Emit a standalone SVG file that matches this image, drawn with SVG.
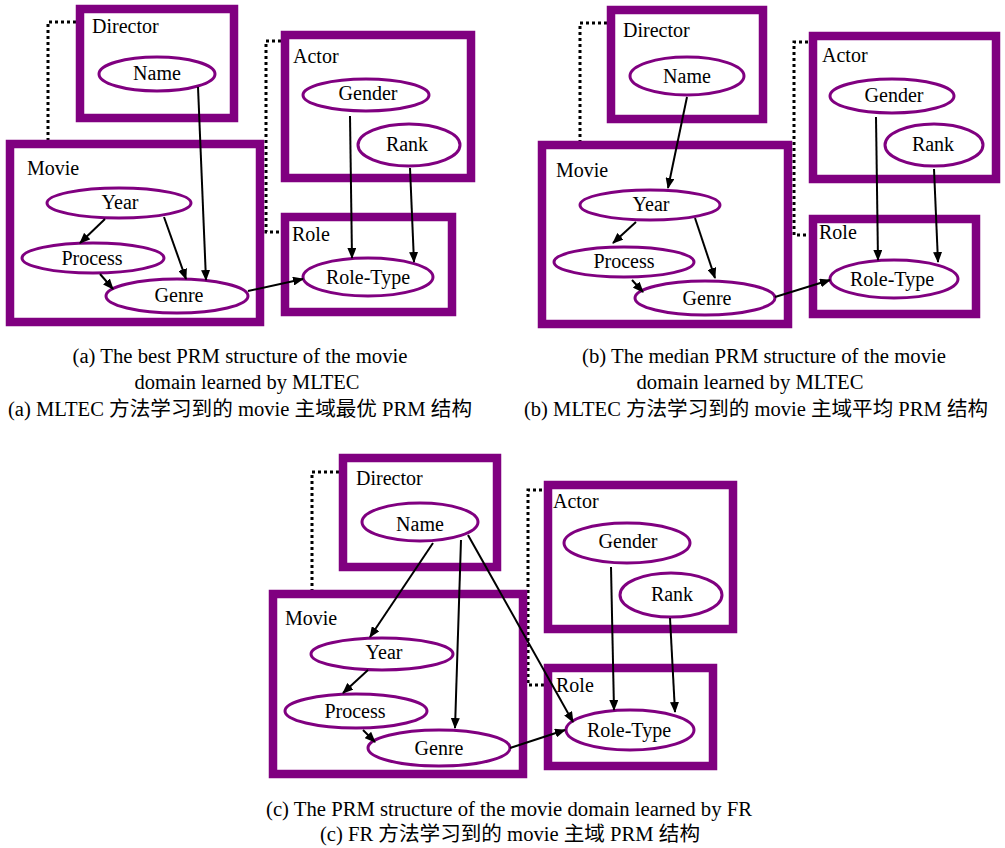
<svg xmlns="http://www.w3.org/2000/svg" width="1005" height="848" viewBox="0 0 1005 848">
<defs>
<marker id="arr" markerUnits="userSpaceOnUse" markerWidth="11" markerHeight="9" refX="10" refY="4.5" orient="auto">
<path d="M0,0 L11,4.5 L0,9 z" fill="#000"/>
</marker>
<style>
.box{fill:#fff;stroke:#800080;stroke-width:8.5}
.ell{fill:#fff;stroke:#800080;stroke-width:3}
.lbl{font-family:"Liberation Serif","Times New Roman",serif;font-size:20px;fill:#000}
.nt{font-family:"Liberation Serif","Times New Roman",serif;font-size:20px;fill:#000;text-anchor:middle}
.cap{font-family:"Liberation Serif","Times New Roman","Noto Sans CJK SC",serif;font-size:20px;fill:#000;text-anchor:middle}
.dot{fill:none;stroke:#000;stroke-width:3;stroke-dasharray:3 3}
.edge{fill:none;stroke:#000;stroke-width:2;marker-end:url(#arr)}
</style>
</defs>
<rect width="1005" height="848" fill="#fff"/>

<!-- Panel (a) -->
<g id="a-connectors">
<path class="dot" d="M76,22 H48 V155"/>
<path class="dot" d="M281,41 H266 V232 H285"/>
</g>
<g id="a-director"><rect class="box" x="80" y="9" width="154" height="109"/><text class="lbl" x="92" y="33">Director</text></g>
<g id="a-movie"><rect class="box" x="10" y="144" width="250" height="178"/><text class="lbl" x="27" y="175">Movie</text></g>
<g id="a-actor"><rect class="box" x="285" y="35" width="186" height="143"/><text class="lbl" x="293" y="63">Actor</text></g>
<g id="a-role"><rect class="box" x="285" y="217" width="167" height="95"/><text class="lbl" x="292" y="241">Role</text></g>
<g id="a-name"><ellipse class="ell" cx="157" cy="74" rx="58" ry="17"/><text class="nt" x="157" y="80">Name</text></g>
<g id="a-year"><ellipse class="ell" cx="119" cy="203" rx="72" ry="15"/><text class="nt" x="120" y="209">Year</text></g>
<g id="a-process"><ellipse class="ell" cx="93" cy="258" rx="71" ry="15"/><text class="nt" x="92" y="265">Process</text></g>
<g id="a-genre"><ellipse class="ell" cx="177" cy="296" rx="71" ry="17"/><text class="nt" x="179" y="302">Genre</text></g>
<g id="a-gender"><ellipse class="ell" cx="366" cy="95" rx="63" ry="16"/><text class="nt" x="368" y="100">Gender</text></g>
<g id="a-rank"><ellipse class="ell" cx="409" cy="145" rx="51" ry="21"/><text class="nt" x="407" y="151">Rank</text></g>
<g id="a-roletype"><ellipse class="ell" cx="368" cy="277" rx="65" ry="19"/><text class="nt" x="368" y="284">Role-Type</text></g>
<g id="a-edges">
<line class="edge" x1="198" y1="87" x2="206" y2="280"/>
<line class="edge" x1="105" y1="219" x2="80" y2="243"/>
<line class="edge" x1="164" y1="217" x2="186" y2="279"/>
<line class="edge" x1="100" y1="274" x2="113" y2="289"/>
<line class="edge" x1="248" y1="291" x2="303" y2="279"/>
<line class="edge" x1="350" y1="116" x2="352" y2="258"/>
<line class="edge" x1="410" y1="168" x2="414" y2="262"/>
</g>

<!-- Panel (b) -->
<g id="b-connectors">
<path class="dot" d="M607,23 H580 V157"/>
<path class="dot" d="M808,42 H794 V235 H813"/>
</g>
<g id="b-director"><rect class="box" x="611" y="10" width="152" height="109"/><text class="lbl" x="623" y="37">Director</text></g>
<g id="b-movie"><rect class="box" x="542" y="145" width="246" height="179"/><text class="lbl" x="556" y="177">Movie</text></g>
<g id="b-actor"><rect class="box" x="813" y="36" width="183" height="143"/><text class="lbl" x="822" y="62">Actor</text></g>
<g id="b-role"><rect class="box" x="813" y="219" width="163" height="95"/><text class="lbl" x="819" y="239">Role</text></g>
<g id="b-name"><ellipse class="ell" cx="687" cy="76" rx="57" ry="19"/><text class="nt" x="687" y="83">Name</text></g>
<g id="b-year"><ellipse class="ell" cx="650" cy="205" rx="70" ry="15"/><text class="nt" x="651" y="211">Year</text></g>
<g id="b-process"><ellipse class="ell" cx="624" cy="262" rx="70" ry="15"/><text class="nt" x="624" y="268">Process</text></g>
<g id="b-genre"><ellipse class="ell" cx="705" cy="298" rx="70" ry="17"/><text class="nt" x="707" y="305">Genre</text></g>
<g id="b-gender"><ellipse class="ell" cx="892" cy="96" rx="62" ry="17"/><text class="nt" x="894" y="102">Gender</text></g>
<g id="b-rank"><ellipse class="ell" cx="934" cy="145" rx="49" ry="21"/><text class="nt" x="933" y="151">Rank</text></g>
<g id="b-roletype"><ellipse class="ell" cx="894" cy="279" rx="64" ry="19"/><text class="nt" x="892" y="286">Role-Type</text></g>
<g id="b-edges">
<line class="edge" x1="687" y1="97" x2="668" y2="188"/>
<line class="edge" x1="636" y1="222" x2="613" y2="243"/>
<line class="edge" x1="695" y1="218" x2="715" y2="278"/>
<line class="edge" x1="632" y1="280" x2="643" y2="292"/>
<line class="edge" x1="775" y1="297" x2="830" y2="280"/>
<line class="edge" x1="876" y1="117" x2="878" y2="260"/>
<line class="edge" x1="934" y1="169" x2="938" y2="262"/>
</g>

<!-- Panel (c) -->
<g id="c-connectors">
<path class="dot" d="M339,472 H312 V605"/>
<path class="dot" d="M548,490 H528 V685 H548"/>
</g>
<g id="c-director"><rect class="box" x="343" y="458" width="154" height="109"/><text class="lbl" x="356" y="485">Director</text></g>
<g id="c-movie"><rect class="box" x="273" y="594" width="250" height="180"/><text class="lbl" x="285" y="625">Movie</text></g>
<g id="c-actor"><rect class="box" x="548" y="485" width="185" height="144"/><text class="lbl" x="553" y="508">Actor</text></g>
<g id="c-role"><rect class="box" x="548" y="668" width="165" height="98"/><text class="lbl" x="556" y="692">Role</text></g>
<g id="c-name"><ellipse class="ell" cx="420" cy="522" rx="58" ry="19"/><text class="nt" x="420" y="531">Name</text></g>
<g id="c-year"><ellipse class="ell" cx="382" cy="654" rx="71" ry="16"/><text class="nt" x="384" y="659">Year</text></g>
<g id="c-process"><ellipse class="ell" cx="356" cy="711" rx="71" ry="17"/><text class="nt" x="355" y="718">Process</text></g>
<g id="c-genre"><ellipse class="ell" cx="439" cy="748" rx="71" ry="18"/><text class="nt" x="439" y="755">Genre</text></g>
<g id="c-gender"><ellipse class="ell" cx="627" cy="543" rx="63" ry="20"/><text class="nt" x="628" y="548">Gender</text></g>
<g id="c-rank"><ellipse class="ell" cx="671" cy="595" rx="51" ry="22"/><text class="nt" x="672" y="601">Rank</text></g>
<g id="c-roletype"><ellipse class="ell" cx="630" cy="730" rx="64" ry="20"/><text class="nt" x="629" y="737">Role-Type</text></g>
<g id="c-edges">
<line class="edge" x1="433" y1="543" x2="370" y2="637"/>
<line class="edge" x1="461" y1="540" x2="455" y2="728"/>
<line class="edge" x1="468" y1="535" x2="573" y2="722"/>
<line class="edge" x1="368" y1="670" x2="343" y2="693"/>
<line class="edge" x1="363" y1="730" x2="375" y2="742"/>
<line class="edge" x1="510" y1="748" x2="565" y2="730"/>
<line class="edge" x1="611" y1="567" x2="614" y2="710"/>
<line class="edge" x1="670" y1="618" x2="675" y2="712"/>
</g>

<!-- Captions -->
<g id="captions">
<text class="cap" x="240" y="363" textLength="335" lengthAdjust="spacingAndGlyphs">(a) The best PRM structure of the movie</text>
<text class="cap" x="247" y="389" textLength="225" lengthAdjust="spacingAndGlyphs">domain learned by MLTEC</text>
<text class="cap" x="240" y="416" textLength="464" lengthAdjust="spacingAndGlyphs">(a) MLTEC 方法学习到的 movie 主域最优 PRM 结构</text>
<text class="cap" x="764" y="363" textLength="364" lengthAdjust="spacingAndGlyphs">(b) The median PRM structure of the movie</text>
<text class="cap" x="750" y="389" textLength="227" lengthAdjust="spacingAndGlyphs">domain learned by MLTEC</text>
<text class="cap" x="756" y="416" textLength="464" lengthAdjust="spacingAndGlyphs">(b) MLTEC 方法学习到的 movie 主域平均 PRM 结构</text>
<text class="cap" x="509" y="816" textLength="486" lengthAdjust="spacingAndGlyphs">(c) The PRM structure of the movie domain learned by FR</text>
<text class="cap" x="510" y="841" textLength="380" lengthAdjust="spacingAndGlyphs">(c) FR 方法学习到的 movie 主域 PRM 结构</text>
</g>
</svg>
